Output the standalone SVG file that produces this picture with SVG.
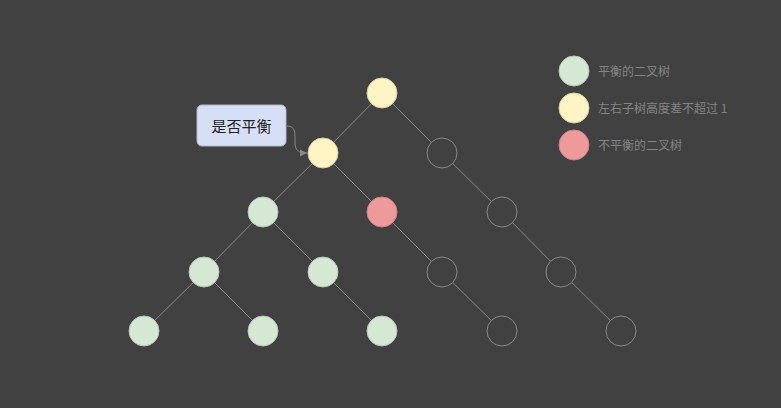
<svg xmlns="http://www.w3.org/2000/svg" width="781" height="408" viewBox="0 0 781 408">
<defs>
<style>
.e{stroke:#8a8a8a;stroke-width:1;fill:none}
.g{fill:#d5e8d4;stroke:#b8c8b7;stroke-width:1}
.y{fill:#fff4c3;stroke:#d8cfa5;stroke-width:1}
.r{fill:#ee9a9a;stroke:#cc8585;stroke-width:1}
.o{fill:#414141;stroke:#8a8a8a;stroke-width:1}
.lt{font-family:"Noto Sans CJK SC","Liberation Sans",sans-serif;font-size:12px;fill:#858585}
</style>
<marker id="ah" markerWidth="8" markerHeight="8" refX="7" refY="4" orient="auto" markerUnits="userSpaceOnUse">
<path d="M0,0.5 L7,4 L0,7.5 Z" fill="#8a8a8a"/>
</marker>
</defs>
<rect width="781" height="408" fill="#414141"/>
<g id="connectors">
<line class="e" x1="382" y1="93" x2="323" y2="153"/>
<line class="e" x1="382" y1="93" x2="442" y2="153"/>
<line class="e" x1="323" y1="153" x2="263" y2="212"/>
<line class="e" x1="323" y1="153" x2="382" y2="212"/>
<line class="e" x1="442" y1="153" x2="502" y2="212"/>
<line class="e" x1="263" y1="212" x2="204" y2="272"/>
<line class="e" x1="263" y1="212" x2="323" y2="272"/>
<line class="e" x1="382" y1="212" x2="442" y2="272"/>
<line class="e" x1="502" y1="212" x2="561" y2="272"/>
<line class="e" x1="204" y1="272" x2="144" y2="331"/>
<line class="e" x1="204" y1="272" x2="263" y2="331"/>
<line class="e" x1="323" y1="272" x2="382" y2="331"/>
<line class="e" x1="442" y1="272" x2="502" y2="331"/>
<line class="e" x1="561" y1="272" x2="621" y2="331"/>
<path class="e" d="M287,126 C296,126 295,134 295,142 C295,150 298,153 307,153" marker-end="url(#ah)"/>
</g>
<g id="n0"><circle class="y" cx="382" cy="93" r="15"/></g>
<g id="n1"><circle class="y" cx="323" cy="153" r="15"/></g>
<g id="n2"><circle class="o" cx="442" cy="153" r="15"/></g>
<g id="n3"><circle class="g" cx="263" cy="212" r="15"/></g>
<g id="n4"><circle class="r" cx="382" cy="212" r="15"/></g>
<g id="n5"><circle class="o" cx="502" cy="212" r="15"/></g>
<g id="n6"><circle class="g" cx="204" cy="272" r="15"/></g>
<g id="n7"><circle class="g" cx="323" cy="272" r="15"/></g>
<g id="n8"><circle class="o" cx="442" cy="272" r="15"/></g>
<g id="n9"><circle class="o" cx="561" cy="272" r="15"/></g>
<g id="n10"><circle class="g" cx="144" cy="331" r="15"/></g>
<g id="n11"><circle class="g" cx="263" cy="331" r="15"/></g>
<g id="n12"><circle class="g" cx="382" cy="331" r="15"/></g>
<g id="n13"><circle class="o" cx="502" cy="331" r="15"/></g>
<g id="n14"><circle class="o" cx="621" cy="331" r="15"/></g>
<g id="label">
<rect x="197" y="105" width="89" height="41" rx="5" fill="#d6dff5" stroke="#b0b8cc" stroke-width="1"/>
<text x="241.5" y="131.5" text-anchor="middle" font-family="'Noto Sans CJK SC','Liberation Sans',sans-serif" font-size="15" fill="#222">是否平衡</text>
</g>
<g id="legend1"><circle class="g" cx="574" cy="71" r="15"/><text class="lt" x="598" y="75.5">平衡的二叉树</text></g>
<g id="legend2"><circle class="y" cx="574" cy="108" r="15"/><text class="lt" x="598" y="112.5">左右子树高度差不超过 1</text></g>
<g id="legend3"><circle class="r" cx="574" cy="145" r="15"/><text class="lt" x="598" y="149.5">不平衡的二叉树</text></g>
</svg>
